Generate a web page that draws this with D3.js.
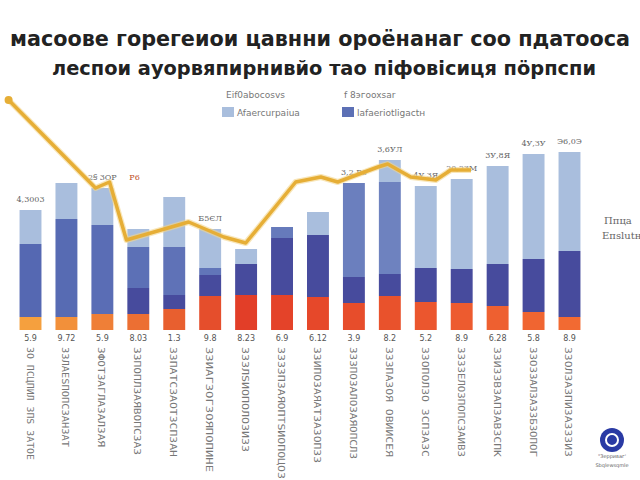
<!DOCTYPE html>
<html><head><meta charset="utf-8">
<script src="https://cdn.jsdelivr.net/npm/d3@7/dist/d3.min.js"></script>
<style>body{margin:0;background:#fff}svg{display:block}</style>
</head><body>
<script>
const categories = ["5.9","9.72","5.9","8.03","1.3","9.8","8.23","6.9","6.12","3.9","8.2","5.2","8.9","6.28","5.8","8.9"];
const subLabels = ["ЗО ПСЦПИЛ ЗПЅ ЗАТОЕ","ЗЗЛАЕЅПОПСЗАНЗАТ","ЗФОТЗАГЛАЗАЛЗАЯ","ЗЗПОПЛЗАЯВОПСЗАЗ","ЗЗПАТСЗАОТЗСПЗАН","ЗЗИАГЗОГЗОЯПОПИНЕ","ЗЗЗЛЅИОПОЛОЗИЗЗ","ЗЗЗЗПЗАЯОПТЅИОПОЦОЗ","ЗЗИПОЗАЯАТЗАЗОПЗЗ","ЗЗЗПОЗАЛОЗАЯОПСЛЗ","ЗЗЗПАЗОЯ ОВИИСЕЯ","ЗЗОПОЛЗО ЗСПЗАЗС","ЗЗЗЗЕЛОЗПОПСЗАИВЗ","ЗЗИЗЗВЗАПЗАВЗСПК","ЗЗОЗЗАЛЗАЗЗБЗОПОГ","ЗЗОЛЗАЗПИЗАЗЗЗИЗ"];
const series = ["orange","navy","mid","light"];
const orangeVals = [6.5,6.5,8,8,10.5,17,17.5,17.5,16.5,13.5,17,14,13.5,12,9,6.5];
const navyVals   = [0,0,0,13,7,10.5,15.5,28.5,31,13,11,17,17,21,26.5,33];
const midVals    = [36.5,49,44.5,20.5,24,3.5,0,5.5,0,47,46,0,0,0,0,0];
const lightVals  = [17,18,18.5,9,25,19.5,7.5,0,11.5,0,11,41,45,49,52.5,49.5];
const barLabels  = ["4,3003","","2Ꞩ 3ОР","","","Б5ЄЛ","","","","3,2 Р6","3,6УЛ","4У,ЗЯ","20,2ЗМ","3У,8Я","4У,ЗУ","Э6,0Э"];
const lineIdx = [-0.61,1.81,2.2,2.67,4.4,5.38,5.99,7.38,8.08,8.55,9.67,9.94,10.58,11.28,11.7,12.26];
const lineVals = [115,71,74,45,54,46.5,43.5,74,76.5,74,81.5,83,76.5,75,80,80];
const legendTop = ["Eif0abocosvs","f 8эгooxsar"];
const legendBottom = ["Afaercurpaiua","lafaeriotligactн"];
const titleLines = ["масоове горегеиои цавнни ороёнанаг соо пдатооса","леспои ауорвяпирнивйо тао пiфовiсиця пöрпспи"];

const W=640,H=480;
const svg=d3.select("body").append("svg").attr("width",W).attr("height",H);
svg.append("rect").attr("width",W).attr("height",H).attr("fill","#fff");

// title
svg.selectAll("text.title").data(titleLines).join("text")
  .attr("x",(d,i)=>i?324:320).attr("y",(d,i)=>i?75:46).attr("text-anchor","middle")
  .attr("textLength",(d,i)=>i?544:620).attr("lengthAdjust","spacingAndGlyphs")
  .attr("font-family","DejaVu Sans").attr("font-weight","bold").attr("font-size",(d,i)=>i?19:21).attr("fill","#222")
  .text(d=>d);

const x=d3.scaleBand().domain(d3.range(16)).range([12,588]).paddingInner(0.39).paddingOuter(0.21);
const y=d3.scaleLinear().domain([0,100]).range([330,130]);
const bw=x.bandwidth();
const xl=d3.scaleLinear().domain([0,15]).range([x(0)+bw/2,x(15)+bw/2]);

const rows=categories.map((c,i)=>({i,orange:orangeVals[i],navy:navyVals[i],mid:midVals[i],light:lightVals[i]}));
const stack=d3.stack().keys(series)(rows);
const orangeColor=d3.scaleLinear().domain([0,6,15]).range(["#f5a03e","#e23e28","#f26a32"]);
const midColor=d3.scaleLinear().domain([0,15]).range(["#5568b2","#7a8fc6"]);
const colors={navy:"#474b9d",light:"#a9bedd"};

stack.forEach(s=>{
  svg.append("g").selectAll("rect").data(s).join("rect")
    .attr("x",(d,i)=>x(i)).attr("width",bw)
    .attr("y",d=>y(d[1])).attr("height",d=>y(d[0])-y(d[1]))
    .attr("fill",(d,i)=>s.key==="orange"?orangeColor(i):s.key==="mid"?midColor(i):colors[s.key]);
});

// bar value labels
const totals=rows.map(r=>r.orange+r.navy+r.mid+r.light);
svg.selectAll("text.bl").data(barLabels).join("text")
  .attr("x",(d,i)=>x(i)+bw/2).attr("y",(d,i)=>y(totals[i])-8)
  .attr("text-anchor","middle").attr("font-family","DejaVu Serif").attr("font-size",8)
  .attr("fill","#666").text(d=>d);

// line
const line=d3.line().x(d=>xl(d[0])).y(d=>y(d[1])).curve(d3.curveLinear);
const pts=lineIdx.map((v,i)=>[v,lineVals[i]]);
svg.append("path").datum(pts).attr("d",line).attr("fill","none")
  .attr("stroke","#f3d58c").attr("stroke-width",6).attr("stroke-linejoin","round").attr("opacity",0.6);
svg.append("path").datum(pts).attr("d",line).attr("fill","none")
  .attr("stroke","#e6ae36").attr("stroke-width",3.5).attr("stroke-linejoin","round");
svg.append("circle").attr("cx",xl(lineIdx[0])).attr("cy",y(lineVals[0])).attr("r",4).attr("fill","#e6ae36");
svg.append("text").attr("x",xl(2.75)).attr("y",y(75)).attr("font-family","DejaVu Serif").attr("font-size",8).attr("fill","#c0502a").text("Р6");

// legend
svg.selectAll("text.lt").data(legendTop).join("text")
  .attr("x",(d,i)=>i?344:226).attr("y",98)
  .attr("font-family","DejaVu Sans").attr("font-size",9).attr("fill","#777").text(d=>d);
const lg=svg.selectAll("g.lg").data(legendBottom).join("g").attr("transform",(d,i)=>`translate(${i?342:222},107)`);
lg.append("rect").attr("width",12).attr("height",10).attr("fill",(d,i)=>i?"#5c70b5":"#a9bedd");
lg.append("text").attr("x",15).attr("y",9).attr("font-family","DejaVu Sans").attr("font-size",9).attr("fill","#777").text(d=>d);

// x labels
svg.selectAll("text.cat").data(categories).join("text")
  .attr("x",(d,i)=>x(i)+bw/2).attr("y",341).attr("text-anchor","middle")
  .attr("font-family","DejaVu Sans").attr("font-size",8).attr("fill","#555").text(d=>d);
svg.selectAll("text.sub").data(subLabels).join("text")
  .attr("transform",(d,i)=>`translate(${x(i)+bw/2-4},347) rotate(90)`)
  .attr("textLength",(d,i)=>[113,100,100,108,110,125,105,132,116,112,110,110,110,110,110,110][i])
  .attr("lengthAdjust","spacingAndGlyphs")
  .attr("font-family","DejaVu Sans Mono").attr("font-size",9).attr("fill","#777").text(d=>d);

// right side text
svg.append("text").attr("x",604).attr("y",224).attr("font-family","DejaVu Serif").attr("font-size",10).attr("fill","#666").text("Ппца");
svg.append("text").attr("x",602).attr("y",239).attr("font-family","DejaVu Serif").attr("font-size",10).attr("fill","#666").text("Епѕlutн");

// logo
svg.append("circle").attr("cx",612).attr("cy",440).attr("r",12).attr("fill","#2a3aa4");
svg.append("circle").attr("cx",612).attr("cy",440).attr("r",6).attr("fill","none").attr("stroke","#fff").attr("stroke-width",2);
svg.append("text").attr("x",612).attr("y",458).attr("text-anchor","middle").attr("font-family","DejaVu Sans").attr("font-size",5).attr("fill","#666").text("\"Зерриваг'");
svg.append("text").attr("x",612).attr("y",467).attr("text-anchor","middle").attr("font-family","DejaVu Sans").attr("font-size",5).attr("fill","#666").text("Sbqlewsqmle");
</script>
</body></html>
